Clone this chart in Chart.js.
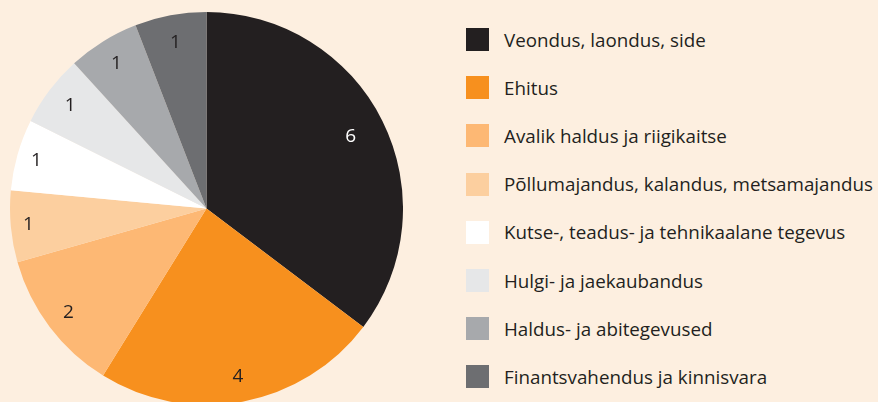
<!DOCTYPE html>
<html>
<head>
<meta charset="utf-8">
<script src="https://cdn.jsdelivr.net/npm/chart.js@4/dist/chart.umd.min.js"></script>
<style>
  html, body { margin:0; padding:0; width:878px; height:402px; overflow:hidden; background:#FDEFE0; }
  #wrap { position:absolute; left:10px; top:12px; width:393px; height:393px; }
  #legend { position:absolute; left:466px; top:0; font-family:"Open Sans", sans-serif; font-size:18.8px; color:#231F20; }
  .row { position:absolute; left:0; height:23px; display:flex; align-items:center; white-space:nowrap; }
  .sw { width:23px; height:23px; margin-right:15px; flex:none; }
</style>
</head>
<body>
<div id="wrap"><canvas id="c"></canvas></div>
<div id="legend"></div>
<script>
const categories = [
  "Veondus, laondus, side",
  "Ehitus",
  "Avalik haldus ja riigikaitse",
  "Põllumajandus, kalandus, metsamajandus",
  "Kutse-, teadus- ja tehnikaalane tegevus",
  "Hulgi- ja jaekaubandus",
  "Haldus- ja abitegevused",
  "Finantsvahendus ja kinnisvara"
];
const values = [6, 4, 2, 1, 1, 1, 1, 1];
const colors = ["#231F20", "#F7901E", "#FDB874", "#FCCF9F", "#FFFFFF", "#E6E7E8", "#A7A9AC", "#6D6E71"];
const labelColors = ["#FFFFFF", "#231F20", "#231F20", "#231F20", "#231F20", "#231F20", "#231F20", "#231F20"];
const labelRadius = [0.82, 0.87, 0.88, 0.91, 0.9, 0.87, 0.87, 0.86];

const sliceLabels = {
  id: 'sliceLabels',
  afterDatasetsDraw(chart) {
    const ctx = chart.ctx;
    const meta = chart.getDatasetMeta(0);
    ctx.save();
    ctx.font = '19px "Open Sans", sans-serif';
    ctx.textAlign = 'center';
    ctx.textBaseline = 'middle';
    meta.data.forEach((arc, i) => {
      const p = arc.getProps(['x','y','startAngle','endAngle','outerRadius'], true);
      const mid = (p.startAngle + p.endAngle) / 2;
      const r = p.outerRadius * labelRadius[i];
      ctx.fillStyle = labelColors[i];
      ctx.fillText(String(values[i]), p.x + Math.cos(mid) * r, p.y + Math.sin(mid) * r);
    });
    ctx.restore();
  }
};

new Chart(document.getElementById('c'), {
  type: 'pie',
  data: { labels: categories, datasets: [{ data: values, backgroundColor: colors, borderWidth: 0 }] },
  options: {
    responsive: true,
    maintainAspectRatio: false,
    animation: false,
    layout: { padding: 0 },
    plugins: { legend: { display: false }, tooltip: { enabled: false } }
  },
  plugins: [sliceLabels]
});

const leg = document.getElementById('legend');
categories.forEach((name, i) => {
  const row = document.createElement('div');
  row.className = 'row';
  row.style.top = (28 + i * 48.2) + 'px';
  const sw = document.createElement('div');
  sw.className = 'sw';
  sw.style.background = colors[i];
  const t = document.createElement('span');
  t.textContent = name;
  row.appendChild(sw); row.appendChild(t);
  leg.appendChild(row);
});
</script>
</body>
</html>
